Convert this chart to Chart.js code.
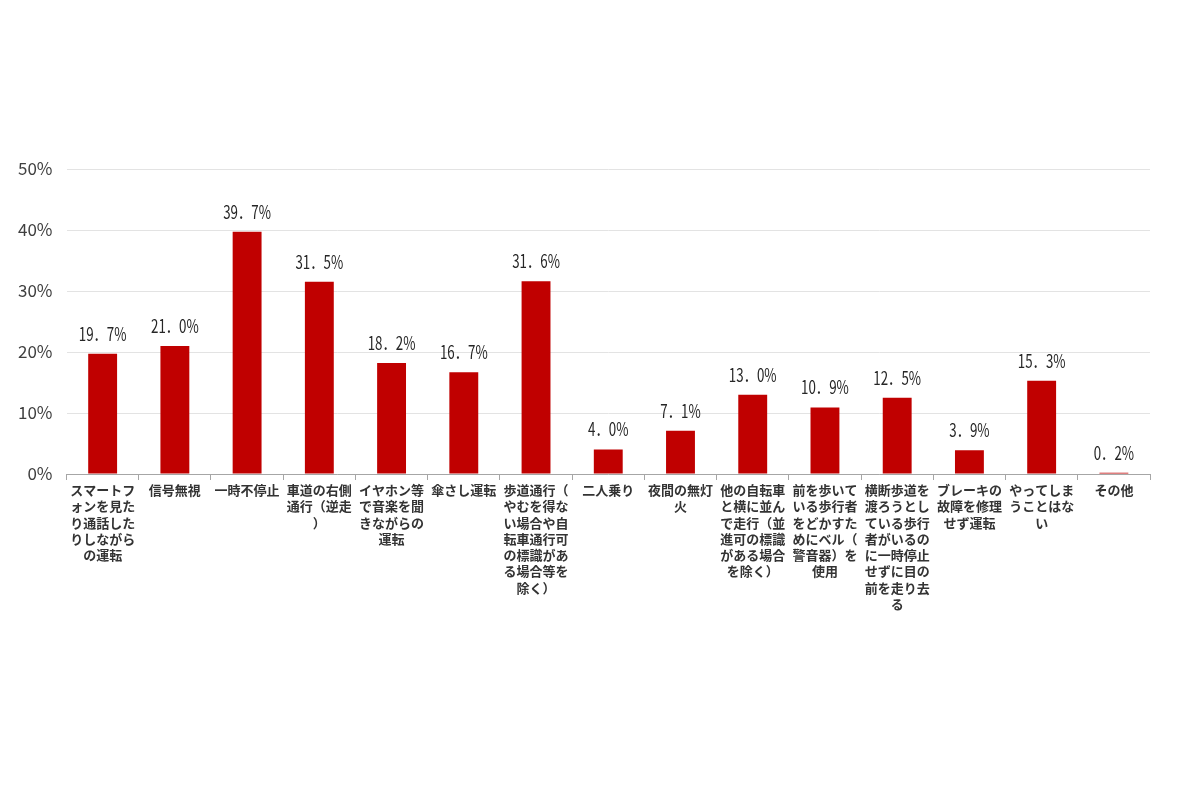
<!DOCTYPE html>
<html>
<head>
<meta charset="utf-8">
<script src="https://cdn.jsdelivr.net/npm/chart.js@4/dist/chart.umd.min.js"></script>
<style>
  html, body { margin: 0; padding: 0; background: #fff; }
  #wrap { width: 1200px; height: 800px; }
</style>
</head>
<body>
<div id="wrap"><canvas id="behaviorChart" width="1200" height="800"></canvas></div>
<script>
// category labels, split into lines as in the picture
const categories = [
    ['スマートフ', 'ォンを見た', 'り通話した', 'りしながら', 'の運転'],
    ['信号無視'],
    ['一時不停止'],
    ['車道の右側', '通行（逆走', '）'],
    ['イヤホン等', 'で音楽を聞', 'きながらの', '運転'],
    ['傘さし運転'],
    ['歩道通行（', 'やむを得な', 'い場合や自', '転車通行可', 'の標識があ', 'る場合等を', '除く）'],
    ['二人乗り'],
    ['夜間の無灯', '火'],
    ['他の自転車', 'と横に並ん', 'で走行（並', '進可の標識', 'がある場合', 'を除く）'],
    ['前を歩いて', 'いる歩行者', 'をどかすた', 'めにベル（', '警音器）を', '使用'],
    ['横断歩道を', '渡ろうとし', 'ている歩行', '者がいるの', 'に一時停止', 'せずに目の', '前を走り去', 'る'],
    ['ブレーキの', '故障を修理', 'せず運転'],
    ['やってしま', 'うことはな', 'い'],
    ['その他']
];

// percentages
const values = [19.7, 21.0, 39.7, 31.5, 18.2, 16.7, 31.6, 4.0, 7.1, 13.0, 10.9, 12.5, 3.9, 15.3, 0.2];

// y axis
const yTicks = [0, 10, 20, 30, 40, 50];

const fontFamily = '"Noto Sans CJK JP", "Noto Sans", sans-serif';

// value labels above each bar (narrow, like the original font)
const valueLabels = {
    id: 'valueLabels',
    afterDatasetsDraw(chart) {
        const ctx = chart.ctx;
        const meta = chart.getDatasetMeta(0);
        meta.data.forEach((bar, i) => {
            const text = values[i].toFixed(1).replace('.', '．') + '%';
            ctx.save();
            ctx.font = '18px ' + fontFamily;
            ctx.fillStyle = '#262626';
            ctx.textAlign = 'center';
            ctx.textBaseline = 'bottom';
            ctx.translate(bar.x, bar.y - 11);
            ctx.scale(0.74, 1);
            ctx.fillText(text, 0, 0);
            ctx.restore();
        });
    }
};

const ctx = document.getElementById('behaviorChart').getContext('2d');
new Chart(ctx, {
    type: 'bar',
    data: {
        labels: categories,
        datasets: [{
            data: values,
            backgroundColor: '#C00000',
            borderWidth: 0,
            categoryPercentage: 1.0,
            barPercentage: 0.4
        }]
    },
    options: {
        responsive: false,
        animation: false,
        layout: {
            padding: { top: 169, right: 50, bottom: 186, left: 4 }
        },
        plugins: {
            legend: { display: false },
            tooltip: { enabled: false }
        },
        scales: {
            x: {
                grid: {
                    offset: true,
                    drawOnChartArea: false,
                    tickLength: 6,
                    color: '#a6a6a6'
                },
                border: { color: '#a6a6a6' },
                ticks: {
                    autoSkip: false,
                    maxRotation: 0,
                    minRotation: 0,
                    color: '#333',
                    padding: 2,
                    font: { family: fontFamily, size: 13, weight: 'bold', lineHeight: 1.25 }
                }
            },
            y: {
                min: 0,
                max: 50,
                afterBuildTicks(axis) {
                    axis.ticks = yTicks.map(v => ({ value: v }));
                },
                grid: {
                    color: '#e3e3e3',
                    drawTicks: false
                },
                border: { display: false },
                ticks: {
                    color: '#404040',
                    padding: 14,
                    font: { family: fontFamily, size: 17 },
                    callback: v => v + '%'
                }
            }
        }
    },
    plugins: [valueLabels]
});
</script>
</body>
</html>
